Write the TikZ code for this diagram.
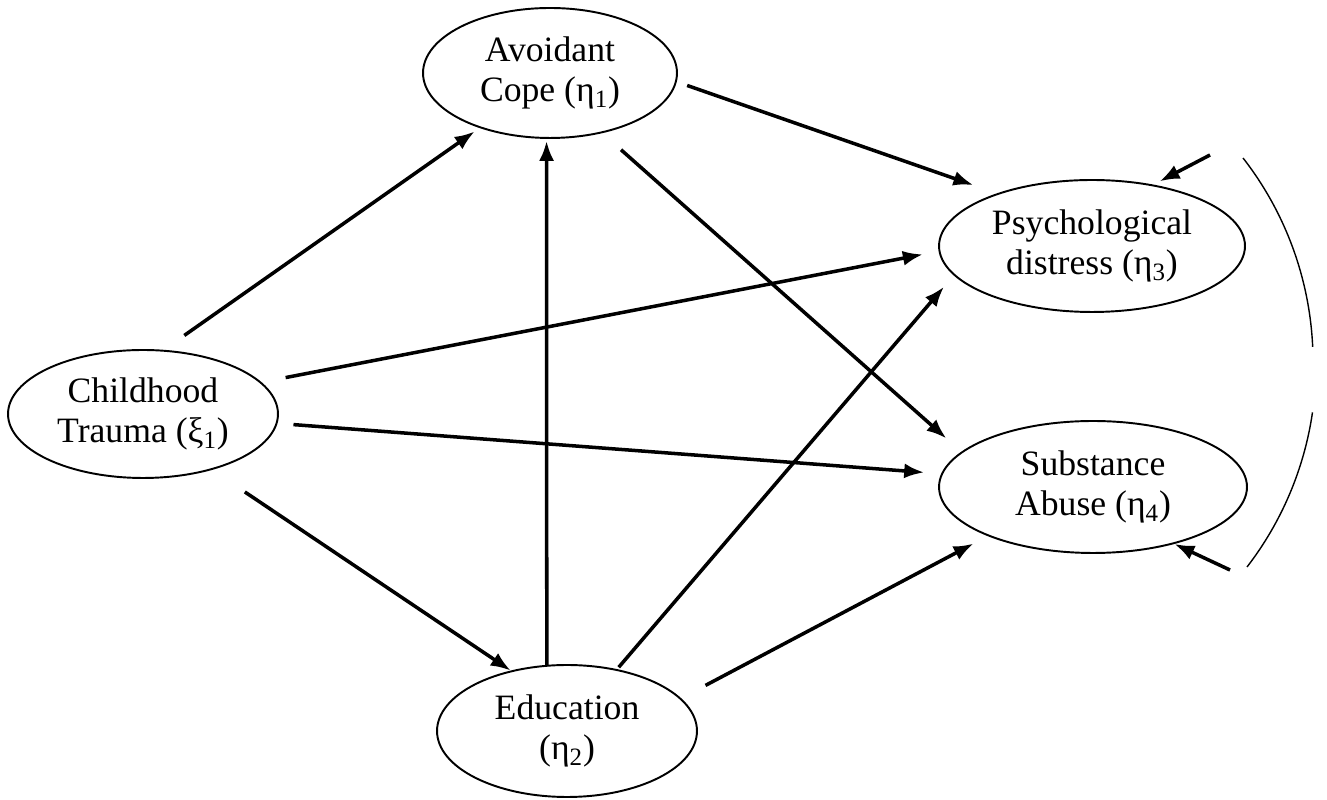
\documentclass[tikz,border=0pt]{standalone}
\usepackage{fontspec}
\setmainfont{Liberation Serif}
\usetikzlibrary{arrows.meta}
\usetikzlibrary{shapes.geometric}

\begin{document}
\begin{tikzpicture}[
    x=0.02cm, y=0.02cm,
    latent/.style={draw, ellipse, line width=1.1pt, inner sep=0pt,
      align=center, font=\fontsize{20.3}{23}\selectfont},
    effect/.style={-{Latex[length=0.4cm, width=0.3cm]}, line width=2pt},
    corr/.style={line width=0.8pt}]

    \useasboundingbox (0, 0) rectangle (1327, 800);

    \node [latent, minimum width=5.4cm, minimum height=2.56cm]
    (trauma) at (143, 386) {Childhood\\Trauma (ξ\textsubscript{1})};
    \node [latent, minimum width=5.08cm, minimum height=2.6cm]
    (cope) at (550, 727) {Avoidant\\Cope (η\textsubscript{1})};
    \node [latent, minimum width=5.2cm, minimum height=2.64cm]
    (educ) at (567, 69) {Education\\(η\textsubscript{2})};
    \node [latent, minimum width=6.12cm, minimum height=2.64cm]
    (distress) at (1092, 554) {Psychological\\distress (η\textsubscript{3})};
    \node [latent, minimum width=6.16cm, minimum height=2.64cm]
    (abuse) at (1093, 313) {Substance\\Abuse (η\textsubscript{4})};

    % paths: from/anchor/gap -> to/anchor/gap
    \foreach \a/\aa/\ga/\b/\bb/\gb in {
      trauma/72.8/0.5/cope/218.9/0.12,
      trauma/15.6/0.49/distress/182.4/0.32,
      trauma/-4.6/0.32/abuse/175/0.34,
      trauma/-39.9/0.79/educ/133/0,
      educ/107.6/0/cope/267.4/0.04,
      educ/51/0.05/distress/192.8/0.3,
      educ/16.4/0.55/abuse/205.4/0.32,
      cope/-4.1/0.22/distress/151.3/0.5,
      cope/-49.7/0.5/abuse/165.5/0.4} {
      \draw [effect, shorten <=\ga cm, shorten >=\gb cm]
      (\a.\aa) -- (\b.\bb);
    }

    % disturbances
    \coordinate (zeta3) at (1210, 645);
    \coordinate (zeta4) at (1230, 230);
    \draw [effect, shorten >=0.14cm] (zeta3) -- (distress.45.4);
    \draw [effect] (zeta4) -- (abuse.-35);

    \coordinate (corrtop) at (1243, 642);
    \coordinate (corrbot) at (1247, 233);
    \draw [corr] (corrtop) arc [start angle=37.9, end angle=2.6, radius=332];
    \draw [corr] (corrbot) arc [start angle=-37.6, end angle=-8.3, radius=332];

  \end{tikzpicture}
\end{document}
